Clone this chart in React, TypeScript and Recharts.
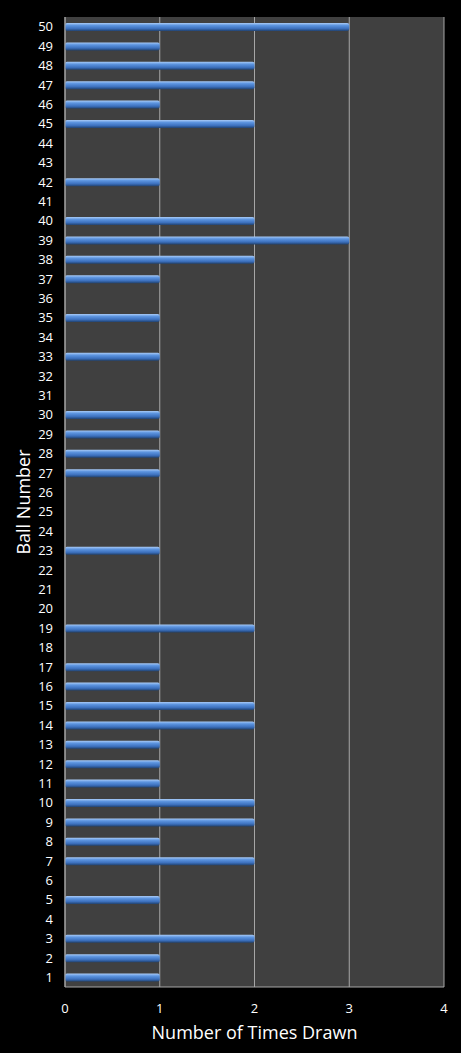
import { BarChart, Bar, XAxis, YAxis, CartesianGrid, Label } from "recharts";

// ball numbers 1..50 and how many times each was drawn
const balls = [
  1, 2, 3, 4, 5, 6, 7, 8, 9, 10, 11, 12, 13, 14, 15, 16, 17, 18, 19, 20, 21, 22, 23, 24, 25,
  26, 27, 28, 29, 30, 31, 32, 33, 34, 35, 36, 37, 38, 39, 40, 41, 42, 43, 44, 45, 46, 47, 48, 49, 50,
];
const timesDrawn = [
  1, 1, 2, 0, 1, 0, 2, 1, 2, 2, 1, 1, 1, 2, 2, 1, 1, 0, 2, 0, 0, 0, 1, 0, 0,
  0, 1, 1, 1, 1, 0, 0, 1, 0, 1, 0, 1, 2, 3, 2, 0, 1, 0, 0, 2, 1, 2, 2, 1, 3,
];
const xTicks = [0, 1, 2, 3, 4];

const data = balls.map((b, i) => ({ ball: String(b), count: timesDrawn[i] }));

const font = "'Open Sans', sans-serif";

export default function App() {
  return (
    <div
      style={{
        position: "absolute",
        left: 0,
        top: 0,
        width: 461,
        height: 1053,
        background: "#000",
        fontFamily: font,
      }}
    >
      <BarChart
        width={461}
        height={1053}
        data={data}
        layout="vertical"
        margin={{ top: 17, right: 17, bottom: 0, left: 0 }}
        barSize={8}
      >
        <defs>
          <linearGradient id="barFill" x1="0" y1="0" x2="0" y2="1">
            <stop offset="0%" stopColor="#a9cbf7" />
            <stop offset="30%" stopColor="#5d95e0" />
            <stop offset="70%" stopColor="#3c70bd" />
            <stop offset="100%" stopColor="#21426f" />
          </linearGradient>
        </defs>
        <CartesianGrid
          fill="#404040"
          horizontal={false}
          stroke="#a6a6a6"
          strokeWidth={1}
        />
        <XAxis
          type="number"
          domain={[0, 4]}
          ticks={xTicks}
          height={66}
          tickLine={false}
          tickSize={0}
          tickMargin={17}
          axisLine={{ stroke: "#a6a6a6" }}
          tick={{ fill: "#fff", fontSize: 13, fontFamily: font }}
        >
          <Label
            value="Number of Times Drawn"
            position="insideBottom"
            offset={14}
            style={{ fill: "#fff", fontSize: 18, fontFamily: font }}
          />
        </XAxis>
        <YAxis
          type="category"
          dataKey="ball"
          reversed
          width={65}
          interval={0}
          tickLine={false}
          tickSize={0}
          tickMargin={12}
          axisLine={{ stroke: "#a6a6a6" }}
          tick={{ fill: "#fff", fontSize: 13, fontFamily: font }}
        >
          <Label
            value="Ball Number"
            angle={-90}
            position="insideLeft"
            offset={24}
            style={{ fill: "#fff", fontSize: 18, fontFamily: font, textAnchor: "middle" }}
          />
        </YAxis>
        <Bar
          dataKey="count"
          fill="url(#barFill)"
          radius={2}
          isAnimationActive={false}
        />
      </BarChart>
    </div>
  );
}
